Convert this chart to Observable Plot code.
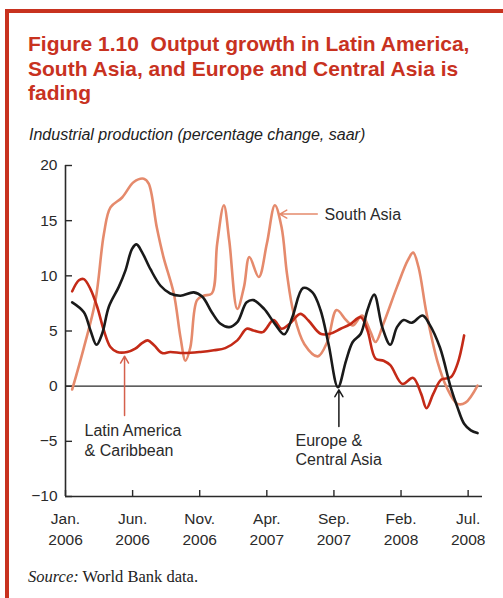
<!DOCTYPE html>
<html>
<head>
<meta charset="utf-8">
<script src="https://cdn.jsdelivr.net/npm/d3@7"></script>
<script src="https://cdn.jsdelivr.net/npm/@observablehq/plot@0.6"></script>
<style>
  html, body { margin: 0; padding: 0; background: #fff; }
  #page { position: relative; width: 503px; height: 598px; overflow: hidden; background: #fff; }
  #frame { position: absolute; left: 5px; top: 9px; width: 498px; height: 600px;
           border-top: 4px solid #c8321f; border-left: 4px solid #c8321f; box-sizing: border-box; }
  #title { position: absolute; left: 28px; top: 32px; width: 470px; margin: 0;
           font-family: "Liberation Sans", Arial, sans-serif; font-weight: bold; font-size: 21px;
           line-height: 24.5px; color: #c8321f; }
  #subtitle { position: absolute; left: 29px; top: 124.5px; margin: 0;
              font-family: "Liberation Sans", Arial, sans-serif; font-style: italic; font-size: 16px;
              line-height: 20px; color: #222; }
  #source { position: absolute; left: 28px; top: 567px; margin: 0;
            font-family: "Liberation Serif", "Times New Roman", serif; font-size: 16.5px;
            line-height: 20px; color: #222; }
  #chart { position: absolute; left: 0; top: 150px; }
</style>
</head>
<body>
<div id="page">
  <div id="frame"></div>
  <div id="title">Figure 1.10&nbsp; Output growth in Latin America, South Asia, and Europe and Central Asia is fading</div>
  <div id="subtitle">Industrial production (percentage change, saar)</div>
  <div id="chart"></div>
  <div id="source"><i>Source:</i> World Bank data.</div>
</div>
<script>
// months since Jan. 2006 (x) and percentage change (y)
const southAsiaMonths = [0.5,1.37,2.24,2.86,3.35,4.22,5.09,5.83,6.2,6.8,7.3,8.07,8.57,8.94,9.3,9.8,10.3,10.9,11.3,11.8,12.2,12.8,13.3,13.7,14.4,15.0,15.6,16.1,16.5,17.0,17.8,18.8,19.5,20.2,20.9,21.4,22.1,22.7,23.1,23.7,24.7,25.5,25.9,26.3,26.9,27.7,28.4,29.2,29.8,30.7];
const southAsiaValues = [-0.3,3.5,7.8,13.8,16.2,17.1,18.5,18.8,18.35,14.4,11.7,8.4,4.4,2.3,3.5,7.8,8.2,8.4,12.9,16.4,13.2,7.0,9.0,11.7,9.9,12.9,16.4,14.4,10.2,6.6,3.8,2.7,4.0,6.9,6.0,5.5,6.4,5.0,4.0,5.7,9.0,11.4,12.1,10.8,6.6,2.3,-0.1,-1.6,-1.5,0.05];

const latamMonths = [0.5,1.0,1.37,1.86,2.36,2.86,3.35,3.85,4.6,5.2,5.7,6.13,6.6,7.2,7.8,8.8,10.06,11.05,11.9,12.8,13.5,14.0,14.7,15.5,16.1,16.7,17.5,18.1,19.0,19.7,20.5,21.2,22.0,22.5,23.1,23.7,24.2,25.1,25.9,26.5,26.9,27.4,28.0,28.7,29.2,29.7];
const latamValues = [8.6,9.6,9.7,8.8,7.2,5.05,3.55,3.1,3.1,3.4,3.9,4.15,3.7,3.0,3.1,3.0,3.1,3.25,3.45,4.15,5.2,5.05,4.9,6.0,5.2,5.65,6.55,5.95,4.75,4.75,5.2,5.6,6.25,5.05,2.5,2.3,1.9,0.2,0.75,-0.7,-2.0,-0.7,0.6,0.8,2.0,4.6];

const ecaMonths = [0.5,1.37,1.86,2.31,2.73,3.23,3.97,4.47,4.96,5.29,5.7,6.33,7.08,7.8,8.57,9.56,10.2,10.9,11.55,12.2,12.8,13.5,14.0,14.8,15.6,16.3,16.9,17.7,18.4,19.0,19.6,20.3,20.9,21.4,22.0,22.5,23.0,23.6,24.2,24.7,25.2,25.8,26.6,27.1,27.9,28.7,29.2,29.7,30.2,30.7];
const ecaValues = [7.6,6.7,5.05,3.75,4.75,7.2,9.0,10.5,12.45,12.85,12.15,10.6,9.1,8.4,8.2,8.5,8.1,6.7,5.65,5.35,5.8,7.6,7.8,7.0,5.65,4.7,6.25,8.9,8.5,6.9,3.8,-0.1,2.3,4.0,4.75,6.9,8.3,5.35,3.75,5.35,6.0,5.75,6.4,5.65,3.5,-0.1,-1.9,-3.4,-4.0,-4.25];

const xTicks = [0, 5, 10, 15, 20, 25, 30];
const xTickLabels = ["Jan.\n2006", "Jun.\n2006", "Nov.\n2006", "Apr.\n2007", "Sep.\n2007", "Feb.\n2008", "Jul.\n2008"];
const yTicks = [-10, -5, 0, 5, 10, 15, 20];
const yTickLabels = ["\u221210", "\u22125", "0", "5", "10", "15", "20"];

// annotations: labels and the data points they sit at
const labelTexts = ["South Asia", "Latin America\n& Caribbean", "Europe &\nCentral Asia"];
const labelMonths = [19.3, 1.42, 17.14];
const labelValues = [15.6, -4.87, -5.73];
const arrowFromMonths = [18.76, 4.4, 20.37];
const arrowFromValues = [15.6, -2.65, -3.65];
const arrowToMonths = [15.97, 4.4, 20.37];
const arrowToValues = [15.6, 2.72, -0.33];

const toRows = (ms, vs) => ms.map((m, i) => ({m, v: vs[i]}));
const southAsia = toRows(southAsiaMonths, southAsiaValues);
const latam = toRows(latamMonths, latamValues);
const eca = toRows(ecaMonths, ecaValues);
const labels = labelTexts.map((t, i) => ({t, m: labelMonths[i], v: labelValues[i]}));
const arrows = arrowFromMonths.map((m, i) => ({m1: m, v1: arrowFromValues[i], m2: arrowToMonths[i], v2: arrowToValues[i]}));
const arrowColors = ["#e58a6c", "#d5604c", "#1a1a1a"];

const axisColor = "#2a2a2a";
const chart = Plot.plot({
  width: 503,
  height: 410,
  marginTop: 15,
  marginBottom: 64,
  marginLeft: 65,
  marginRight: 21,
  x: {domain: [0, 31.07]},
  y: {domain: [-10, 20]},
  style: {fontFamily: "'Liberation Sans', Arial, sans-serif", fontSize: "15.5px", color: axisColor, background: "transparent", overflow: "visible"},
  marks: [
    Plot.ruleY([0], {stroke: axisColor, strokeWidth: 1.2}),
    Plot.ruleX([0], {y1: -10, y2: 20, stroke: axisColor, strokeWidth: 1.6}),
    Plot.ruleY([-10], {stroke: axisColor, strokeWidth: 1.6}),
    Plot.axisY({ticks: yTicks, tickFormat: d => yTickLabels[yTicks.indexOf(d)], tickSize: -7, tickPadding: 15, strokeWidth: 1.4, fontSize: 15.5, label: null}),
    Plot.axisX({ticks: xTicks, tickFormat: d => xTickLabels[xTicks.indexOf(d)], tickSize: -6, tickPadding: 18.5, lineHeight: 1.355, strokeWidth: 1.4, fontSize: 15.5, label: null}),
    Plot.line(southAsia, {x: "m", y: "v", curve: "catmull-rom", stroke: "#e58a6c", strokeWidth: 2.6}),
    Plot.line(latam, {x: "m", y: "v", curve: "catmull-rom", stroke: "#c42a17", strokeWidth: 2.6}),
    Plot.line(eca, {x: "m", y: "v", curve: "catmull-rom", stroke: "#1a1a1a", strokeWidth: 2.6}),
    Plot.arrow(arrows, {x1: "m1", y1: "v1", x2: "m2", y2: "v2", stroke: (d, i) => arrowColors[i], strokeWidth: 1.5, headLength: 8}),
    Plot.text(labels, {x: "m", y: "v", text: "t", textAnchor: "start", lineAnchor: "middle", lineHeight: 1.2, fontSize: 16, fill: "#2a2a2a"})
  ]
});
document.getElementById("chart").appendChild(chart);
</script>
</body>
</html>
